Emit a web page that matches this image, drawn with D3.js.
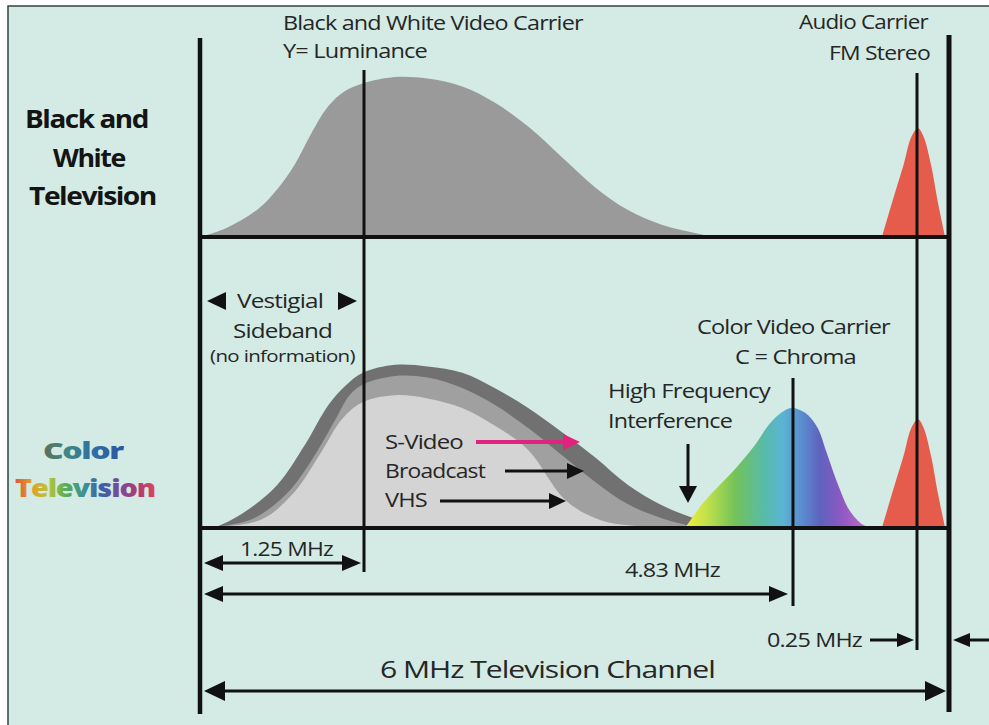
<!DOCTYPE html>
<html><head><meta charset="utf-8">
<script src="https://cdn.jsdelivr.net/npm/d3@7"></script>
<style>
body{margin:0;background:#fff}
svg{display:block}
text{font-family:"Open Sans","DejaVu Sans",sans-serif}
</style>
</head><body>
<svg id="c" width="989" height="725"></svg>
<script>
// ---------------- DATA ----------------
// key frequencies of the 6 MHz channel (MHz); the drawing is not to scale
const carrierFreqs = [0, 1.25, 4.83, 5.75, 6];
// [frequency MHz, relative amplitude %]
const bwLuma = [[0,0],[0.21,6],[0.45,18],[0.59,30],[0.72,45],[0.85,65],[0.98,82],[1.10,91],[1.24,96],[1.51,100],[1.78,99],[2.07,94],[2.34,84],[2.62,69],[2.90,50],[3.18,31],[3.45,17],[3.74,7.5],[4.01,2.5],[4.18,0]];
const sVideo = [[0,0],[0.11,0.5],[0.34,10],[0.59,27],[0.80,52],[0.98,77],[1.11,89],[1.24,97],[1.51,102],[1.78,101],[2.07,97],[2.34,87.5],[2.62,75],[2.90,60],[3.18,44],[3.45,27],[3.74,14],[4.01,6],[4.18,2],[4.39,0]];
const broadcast = [[0,0],[0.38,5],[0.65,20.6],[0.84,41],[1.03,67.5],[1.14,83],[1.25,90],[1.51,95],[1.78,94],[2.07,87.5],[2.34,77],[2.62,62.5],[2.90,45.6],[3.18,28.8],[3.45,15],[3.74,6],[4.05,0]];
const vhs = [[0,0],[0.46,5],[0.72,22.5],[0.91,45.6],[1.09,68.8],[1.25,79],[1.51,83],[1.78,81],[2.07,75],[2.34,64],[2.62,48.8],[2.93,17.5],[3.22,5],[3.56,1],[3.81,0]];
const chroma = [[3.93,0],[4.08,15.6],[4.22,27],[4.36,38],[4.50,50.6],[4.64,65.6],[4.74,72.5],[4.82,75],[4.92,72],[5.01,63],[5.08,47],[5.16,28],[5.25,11],[5.35,2],[5.42,0]];
const audio = [[5.49,0],[5.57,23],[5.65,45],[5.71,63],[5.758,68],[5.80,63],[5.86,45],[5.91,23],[5.97,0]];
const panelTitles = [["Black and","White","Television"],["Color","Television"]];
const qualityLabels = ["S-Video","Broadcast","VHS"];
const dimLabels = ["1.25 MHz","4.83 MHz","0.25 MHz","6 MHz Television Channel"];

// ---------------- DRAWING ----------------
const W = 989, H = 725;
const svg = d3.select("#c");
const defs = svg.append("defs");

svg.append("rect").attr("width", W).attr("height", H).attr("fill", "#ffffff");
svg.append("rect").attr("x", 8).attr("y", 6).attr("width", W - 8).attr("height", H - 6).attr("fill", "#d3ebe4");
svg.append("path").attr("d", `M8,${H}V6H${W}`).attr("fill", "none").attr("stroke", "#34423f").attr("stroke-width", 1.5);

const x = d3.scaleLinear().domain(carrierFreqs).range([200, 364, 793, 917, 949]);
const yTop = d3.scaleLinear().domain([0, 100]).range([237, 77]);
const yBot = d3.scaleLinear().domain([0, 100]).range([528, 368]);

const areaFor = y => d3.area().x(d => x(d[0])).y0(y(0)).y1(d => y(d[1])).curve(d3.curveCatmullRom.alpha(0.5));

// gradients
const cg = defs.append("linearGradient").attr("id", "chromaGrad").attr("gradientUnits", "userSpaceOnUse")
  .attr("x1", x(chroma[0][0])).attr("x2", x(chroma[chroma.length - 1][0])).attr("y1", 0).attr("y2", 0);
[[0, "#f1ef3c"], [0.12, "#bfe04a"], [0.27, "#72c25a"], [0.42, "#58bba8"], [0.52, "#5ab4d4"], [0.62, "#5a8ed0"], [0.72, "#5f62be"], [0.83, "#8c58c2"], [1, "#cf6ccc"]]
  .forEach(s => cg.append("stop").attr("offset", s[0]).attr("stop-color", s[1]));
// text gradients use the text's own bounding box
const tg1 = defs.append("linearGradient").attr("id", "colorWord").attr("x1", 0).attr("x2", 1).attr("y1", 0).attr("y2", 0);
[[0, "#5e6e58"], [0.3, "#3d8884"], [0.6, "#2f70a6"], [1, "#2c55a0"]]
  .forEach(s => tg1.append("stop").attr("offset", s[0]).attr("stop-color", s[1]));
const tg2 = defs.append("linearGradient").attr("id", "tvWord").attr("x1", 0).attr("x2", 1).attr("y1", 0).attr("y2", 0);
[[0, "#e2553a"], [0.12, "#e0a02a"], [0.24, "#b8c43a"], [0.36, "#5aae56"], [0.5, "#3b8f9a"], [0.62, "#3a62a8"], [0.75, "#7a4a96"], [0.88, "#b23a72"], [1, "#d8485a"]]
  .forEach(s => tg2.append("stop").attr("offset", s[0]).attr("stop-color", s[1]));

// curves
const gCurves = svg.append("g");
gCurves.append("path").datum(bwLuma).attr("d", areaFor(yTop)).attr("fill", "#9a9a9a");
gCurves.append("path").datum(audio).attr("d", areaFor(yTop)).attr("fill", "#e65c4c");
gCurves.append("path").datum(sVideo).attr("d", areaFor(yBot)).attr("fill", "#717171");
gCurves.append("path").datum(broadcast).attr("d", areaFor(yBot)).attr("fill", "#a0a0a0");
gCurves.append("path").datum(vhs).attr("d", areaFor(yBot)).attr("fill", "#d4d4d4");
gCurves.append("path").datum(chroma).attr("d", areaFor(yBot)).attr("fill", "url(#chromaGrad)");
gCurves.append("path").datum(audio).attr("d", areaFor(yBot)).attr("fill", "#e65c4c");

// baselines
[yTop, yBot].forEach(y => {
  svg.append("line").attr("x1", x(0)).attr("x2", x(6)).attr("y1", y(0)).attr("y2", y(0))
    .attr("stroke", "#111").attr("stroke-width", 4);
});

// carrier / channel edge lines
const lineLayout = [[38, 714, 4.5], [70, 572, 3], [378, 606, 3], [73, 650, 3], [35, 712, 5]];
carrierFreqs.forEach((f, i) => {
  const [a, b, w] = lineLayout[i];
  svg.append("line").attr("x1", x(f)).attr("x2", x(f)).attr("y1", a).attr("y2", b)
    .attr("stroke", "#111").attr("stroke-width", w);
});

// arrows
function arrow(x1, y1, x2, y2, o = {}) {
  const col = o.color || "#111", w = o.w || 3, hl = o.hl || 18, hw = o.hw || 8;
  const ang = Math.atan2(y2 - y1, x2 - x1), c = Math.cos(ang), s = Math.sin(ang);
  const sx = o.start ? x1 + c * (hl - 2) : x1, sy = o.start ? y1 + s * (hl - 2) : y1;
  const ex = x2 - c * (hl - 2), ey = y2 - s * (hl - 2);
  svg.append("line").attr("x1", sx).attr("y1", sy).attr("x2", ex).attr("y2", ey)
    .attr("stroke", col).attr("stroke-width", w);
  const head = (tx, ty, dx, dy) => {
    const bx = tx - dx * hl, by = ty - dy * hl;
    svg.append("path").attr("d", `M${tx},${ty}L${bx - dy * hw},${by + dx * hw}L${bx + dy * hw},${by - dx * hw}Z`).attr("fill", col);
  };
  head(x2, y2, c, s);
  if (o.start) head(x1, y1, -c, -s);
}
function tri(tx, ty, dir) {
  svg.append("path").attr("d", `M${tx},${ty}L${tx - dir * 19},${ty - 9}L${tx - dir * 19},${ty + 9}Z`).attr("fill", "#111");
}

// text helper: true horizontal glyph stretch to the measured width
function label(t, x0, yb, size, width, o = {}) {
  const el = svg.append("text").attr("x", 0).attr("y", 0).attr("font-size", size)
    .attr("fill", o.fill || "#262626").attr("font-weight", o.weight || 500)
    .attr("letter-spacing", o.ls != null ? o.ls : -0.7).text(t);
  const len = el.node().getComputedTextLength();
  const sx = width && len ? width / len : 1;
  el.attr("transform", `translate(${x0},${yb}) scale(${sx},1)`);
  return el;
}

// top labels
label("Black and White Video Carrier", 283, 30, 20, 300);
label("Y= Luminance", 283, 58, 20, 144);
label("Audio Carrier", 799, 29, 20, 129);
label("FM Stereo", 829, 60, 20, 101);

// panel titles
const tb = { weight: 700, fill: "#141414", ls: -1.3 };
label(panelTitles[0][0], 25, 128, 25, 123, tb);
label(panelTitles[0][1], 53, 167, 25, 72, tb);
label(panelTitles[0][2], 29, 205, 25, 127, tb);
label(panelTitles[1][0], 43, 459, 23, 80, { weight: 800, fill: "url(#colorWord)", ls: -1 });
label(panelTitles[1][1], 15, 497, 25, 140, { weight: 800, fill: "url(#tvWord)", ls: -1 });

// vestigial sideband
tri(207, 301, -1);
tri(357, 301, 1);
label("Vestigial", 237, 308, 20, 86);
label("Sideband", 233, 338, 20, 99);
label("(no information)", 210, 362, 16, 145, { ls: -0.5 });

// color carrier / interference
label("Color Video Carrier", 697, 334, 20, 193);
label("C = Chroma", 735, 364, 20, 121);
label("High Frequency", 608, 398, 20, 162);
label("Interference", 608, 428, 20, 124);
arrow(688, 444, 688, 503, { hl: 17, hw: 9 });

// quality labels and arrows
label(qualityLabels[0], 385, 449, 20, 78);
label(qualityLabels[1], 385, 478, 20, 100);
label(qualityLabels[2], 385, 507, 20, 42);
arrow(476, 442, 580, 442, { color: "#e3217f", w: 4, hl: 17, hw: 8 });
arrow(505, 471, 584, 471, { w: 3, hl: 17, hw: 8 });
arrow(440, 501, 566, 501, { w: 3, hl: 17, hw: 8 });

// dimension arrows
label(dimLabels[0], 240, 556, 20, 93);
arrow(x(0) + 4, 563, x(1.25) - 3, 563, { start: true, hl: 19, hw: 8 });
label(dimLabels[1], 625, 577, 20, 95);
arrow(x(0) + 4, 594, x(4.83) - 5, 594, { start: true, hl: 19, hw: 8 });
label(dimLabels[2], 767, 647, 20, 95);
arrow(870, 640, x(5.75) - 3, 640, { hl: 17, hw: 7 });
arrow(W, 640, x(6) + 4, 640, { hl: 17, hw: 7 });
label(dimLabels[3], 380, 678, 24, 335, { ls: -0.8 });
arrow(x(0) + 4, 691, x(6) - 3, 691, { start: true, hl: 21, hw: 10 });
</script>
</body></html>
